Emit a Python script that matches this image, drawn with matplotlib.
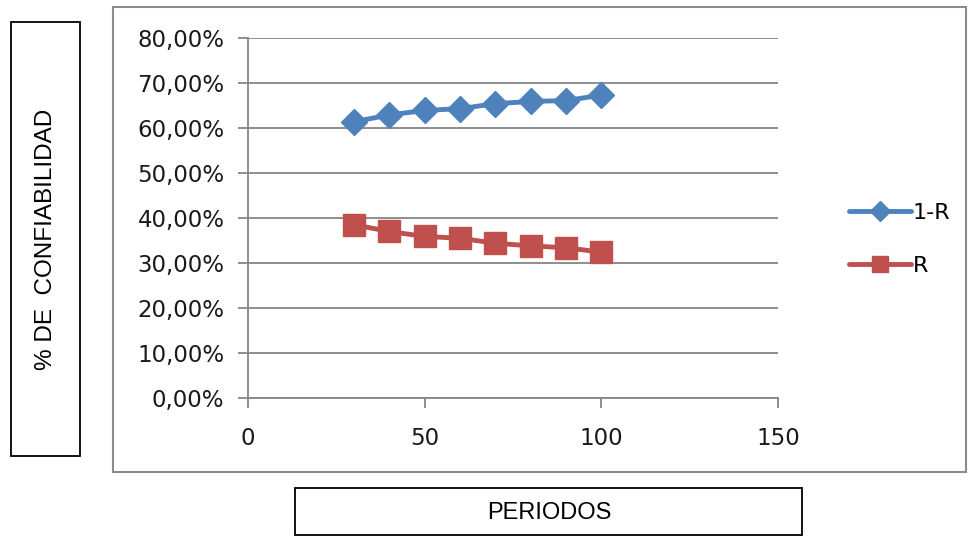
import matplotlib
matplotlib.use("Agg")
import matplotlib.pyplot as plt
from matplotlib.patches import Rectangle
from matplotlib.ticker import FuncFormatter

# datos
periodos = [30, 40, 50, 60, 70, 80, 90, 100]
uno_menos_r = [61.4, 62.9, 63.9, 64.3, 65.4, 65.9, 66.1, 67.3]
r_vals = [38.5, 37.0, 35.9, 35.5, 34.4, 33.8, 33.4, 32.4]
y_ticks = [0, 10, 20, 30, 40, 50, 60, 70, 80]
x_ticks = [0, 50, 100, 150]

azul = "#4F81BD"
rojo = "#C0504D"
gris = "#868686"

fig = plt.figure(figsize=(9.7, 5.36), dpi=100)
W, H = 970.0, 536.0

# marco del grafico (estilo excel)
fig.patches.append(Rectangle((113 / W, 1 - 472 / H), (966 - 113) / W, (472 - 7) / H,
                             transform=fig.transFigure, fill=False,
                             edgecolor="#8c8c8c", lw=1.5))
# cuadro del titulo eje y
fig.patches.append(Rectangle((11 / W, 1 - 456 / H), 69 / W, (456 - 22) / H,
                             transform=fig.transFigure, fill=False,
                             edgecolor="black", lw=1.3))
fig.text(46 / W, 1 - 239 / H, "% DE  CONFIABILIDAD", rotation=90,
         ha="center", va="center", fontsize=17.5, family="Liberation Sans")
# cuadro del titulo eje x
fig.patches.append(Rectangle((295 / W, 1 - 535 / H), (802 - 295) / W, (535 - 488) / H,
                             transform=fig.transFigure, fill=False,
                             edgecolor="black", lw=1.3))
fig.text(549 / W, 1 - 513 / H, "PERIODOS", ha="center", va="center",
         fontsize=17, family="Liberation Sans")

ax = fig.add_axes([248 / W, 1 - 398 / H, (778 - 248) / W, (398 - 38) / H])

ax.plot(periodos, uno_menos_r, color=azul, lw=3.5, marker="D", markersize=13,
        markeredgecolor=azul, markerfacecolor=azul, label="1-R", solid_capstyle="round")
ax.plot(periodos, r_vals, color=rojo, lw=3.5, marker="s", markersize=16,
        markeredgecolor=rojo, markerfacecolor=rojo, label="R", solid_capstyle="round")

ax.set_xlim(0, 150)
ax.set_ylim(0, 80)
ax.set_xticks(x_ticks)
ax.set_yticks(y_ticks)
ax.yaxis.set_major_formatter(FuncFormatter(lambda v, p: ("%.2f%%" % v).replace(".", ",")))

ax.grid(axis="y", color=gris, lw=1.3)
ax.set_axisbelow(True)
for s in ["top", "right"]:
    ax.spines[s].set_visible(False)
for s in ["left", "bottom"]:
    ax.spines[s].set_color(gris)
    ax.spines[s].set_linewidth(1.3)
ax.tick_params(axis="both", colors=gris, width=1.3, length=7, labelcolor="#1a1a1a",
               labelsize=16.5)
ax.tick_params(axis="y", pad=10)
ax.tick_params(axis="x", pad=14)

leg = ax.legend(loc="center left", bbox_to_anchor=(1.096, 0.44), frameon=False,
                fontsize=16, handlelength=2.8, handletextpad=0.08, labelspacing=1.5,
                markerscale=0.75)

fig.savefig("out.png", dpi=100)
